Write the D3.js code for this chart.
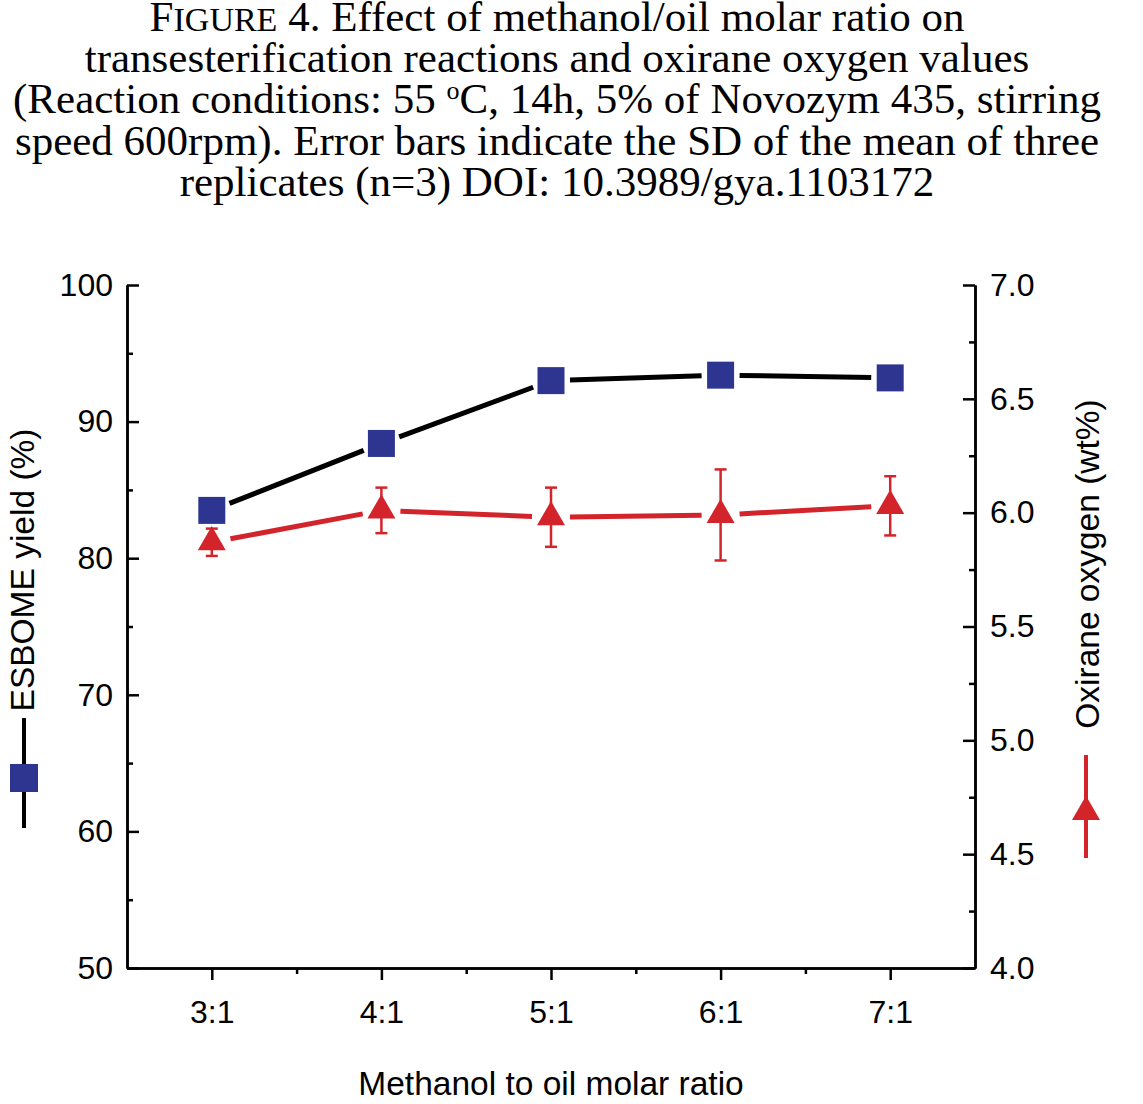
<!DOCTYPE html>
<html lang="en">

<head>
    <meta charset="UTF-8">
    <title>Figure 4 - methanol/oil molar ratio</title>
    <script src="https://cdn.jsdelivr.net/npm/d3@7"></script>
    <style>
        body { margin: 0; background: #fff; }
    </style>
</head>

<body>
    <div id="container"></div>

    <script>
        const width = 1143;
        const height = 1104;
        const margin = { top: 285, left: 127, right: 168, bottom: 136 };

        // data
        const ratios = [3, 4, 5, 6, 7];
        const ratioLabels = ['3:1', '4:1', '5:1', '6:1', '7:1'];
        const yieldValues = [83.5, 88.4, 93.0, 93.4, 93.2];
        const oxiraneValues = [5.87, 6.01, 5.98, 5.99, 6.03];
        const oxiraneSd = [0.06, 0.10, 0.13, 0.20, 0.13];
        const leftTicks = [50, 60, 70, 80, 90, 100];
        const rightTicks = [4.0, 4.5, 5.0, 5.5, 6.0, 6.5, 7.0];

        const blue = '#2e3590';
        const red = '#d3242b';

        const x = d3.scaleLinear().domain([2.5, 7.5]).range([margin.left, width - margin.right]);
        const yLeft = d3.scaleLinear().domain([50, 100]).range([height - margin.bottom, margin.top]);
        const yRight = d3.scaleLinear().domain([4, 7]).range([height - margin.bottom, margin.top]);

        const svg = d3.select('#container').append('svg')
            .attr('width', width)
            .attr('height', height);

        // title
        const title = svg.append('text')
            .attr('font-family', '"Liberation Serif", "Times New Roman", serif')
            .attr('font-size', 43)
            .attr('text-anchor', 'middle')
            .attr('fill', '#000');
        const t1 = title.append('tspan').attr('x', 557).attr('y', 31);
        t1.append('tspan').text('F');
        t1.append('tspan').attr('font-size', 34).text('IGURE');
        t1.append('tspan').text(' 4. Effect of methanol/oil molar ratio on');
        title.append('tspan').attr('x', 557).attr('y', 72)
            .text('transesterification reactions and oxirane oxygen values');
        const t3 = title.append('tspan').attr('x', 557).attr('y', 113);
        t3.append('tspan').text('(Reaction conditions: 55 ');
        t3.append('tspan').attr('font-size', 26).attr('dy', -14).text('o');
        t3.append('tspan').attr('dy', 14).text('C, 14h, 5% of Novozym 435, stirring');
        title.append('tspan').attr('x', 557).attr('y', 155)
            .text('speed 600rpm). Error bars indicate the SD of the mean of three');
        title.append('tspan').attr('x', 557).attr('y', 196)
            .text('replicates (n=3) DOI: 10.3989/gya.1103172');

        // axes
        const axisFont = '"Liberation Sans", Arial, Helvetica, sans-serif';
        const styleAxis = g => {
            g.attr('font-family', axisFont).attr('font-size', 32);
            g.selectAll('path, line').attr('stroke', '#000').attr('stroke-width', 2.5);
            g.selectAll('text').attr('fill', '#000');
        };

        svg.append('g')
            .attr('transform', `translate(${margin.left},0)`)
            .call(d3.axisLeft(yLeft).tickValues(d3.range(55, 100, 10)).tickSize(-6).tickSizeOuter(0).tickFormat(''))
            .call(styleAxis);
        svg.append('g')
            .attr('transform', `translate(${margin.left},0)`)
            .call(d3.axisLeft(yLeft).tickValues(leftTicks).tickSize(-12).tickSizeOuter(0).tickPadding(14).tickFormat(d3.format('d')))
            .call(styleAxis);

        svg.append('g')
            .attr('transform', `translate(${width - margin.right},0)`)
            .call(d3.axisRight(yRight).tickValues(d3.range(4.25, 7, 0.5)).tickSize(-6).tickSizeOuter(0).tickFormat(''))
            .call(styleAxis);
        svg.append('g')
            .attr('transform', `translate(${width - margin.right},0)`)
            .call(d3.axisRight(yRight).tickValues(rightTicks).tickSize(-12).tickSizeOuter(0).tickPadding(15).tickFormat(d3.format('.1f')))
            .call(styleAxis);

        svg.append('g')
            .attr('transform', `translate(0,${height - margin.bottom})`)
            .call(d3.axisBottom(x).tickValues(d3.range(3.5, 7, 1)).tickSize(6).tickSizeOuter(0).tickFormat(''))
            .call(styleAxis);
        svg.append('g')
            .attr('transform', `translate(0,${height - margin.bottom})`)
            .call(d3.axisBottom(x).tickValues(ratios).tickSize(12).tickSizeOuter(0).tickPadding(20)
                .tickFormat((d, i) => ratioLabels[i]))
            .call(styleAxis);

        // axis titles
        svg.append('text')
            .attr('font-family', axisFont)
            .attr('font-size', 33.5)
            .attr('text-anchor', 'middle')
            .attr('x', 551)
            .attr('y', 1095)
            .text('Methanol to oil molar ratio');

        svg.append('text')
            .attr('font-family', axisFont)
            .attr('font-size', 33.5)
            .attr('text-anchor', 'middle')
            .attr('transform', 'translate(34,570) rotate(-90)')
            .text('ESBOME yield (%)');

        svg.append('text')
            .attr('font-family', axisFont)
            .attr('font-size', 33.5)
            .attr('text-anchor', 'middle')
            .attr('transform', 'translate(1099,564) rotate(-90)')
            .text('Oxirane oxygen (wt%)');

        // series legend symbols next to the titles
        svg.append('line')
            .attr('x1', 24).attr('x2', 24).attr('y1', 718).attr('y2', 828)
            .attr('stroke', '#000').attr('stroke-width', 4);
        svg.append('path')
            .attr('transform', 'translate(24,778)')
            .attr('d', d3.symbol(d3.symbolSquare, 28 * 28)())
            .attr('fill', blue);

        svg.append('line')
            .attr('x1', 1086).attr('x2', 1086).attr('y1', 755).attr('y2', 858)
            .attr('stroke', red).attr('stroke-width', 4);
        svg.append('path')
            .attr('transform', 'translate(1086,812)')
            .attr('d', d3.symbol(d3.symbolTriangle, 340)())
            .attr('fill', red);

        // connecting lines, broken at the markers
        const gap = 19;
        const segments = (xs, ys, ys2) => d3.pairs(d3.zip(xs, ys)).map(([a, b]) => {
            const x1 = x(a[0]), y1 = ys2(a[1]), x2 = x(b[0]), y2 = ys2(b[1]);
            const len = Math.hypot(x2 - x1, y2 - y1);
            const ux = (x2 - x1) / len, uy = (y2 - y1) / len;
            return [x1 + ux * gap, y1 + uy * gap, x2 - ux * gap, y2 - uy * gap];
        });

        const plot = svg.append('g');

        plot.selectAll('line.yield')
            .data(segments(ratios, yieldValues, yLeft))
            .join('line')
            .attr('class', 'yield')
            .attr('x1', d => d[0]).attr('y1', d => d[1])
            .attr('x2', d => d[2]).attr('y2', d => d[3])
            .attr('stroke', '#000').attr('stroke-width', 5);

        plot.selectAll('line.oxirane')
            .data(segments(ratios, oxiraneValues, yRight))
            .join('line')
            .attr('class', 'oxirane')
            .attr('x1', d => d[0]).attr('y1', d => d[1])
            .attr('x2', d => d[2]).attr('y2', d => d[3])
            .attr('stroke', red).attr('stroke-width', 5);

        // error bars for oxirane oxygen
        const oxData = ratios.map((r, i) => ({ r, v: oxiraneValues[i], sd: oxiraneSd[i] }));
        const err = plot.selectAll('g.err')
            .data(oxData)
            .join('g')
            .attr('class', 'err')
            .attr('stroke', red)
            .attr('stroke-width', 2.5);
        err.append('line')
            .attr('x1', d => x(d.r)).attr('x2', d => x(d.r))
            .attr('y1', d => yRight(d.v + d.sd)).attr('y2', d => yRight(d.v - d.sd));
        err.append('line')
            .attr('x1', d => x(d.r) - 6).attr('x2', d => x(d.r) + 6)
            .attr('y1', d => yRight(d.v + d.sd)).attr('y2', d => yRight(d.v + d.sd));
        err.append('line')
            .attr('x1', d => x(d.r) - 6).attr('x2', d => x(d.r) + 6)
            .attr('y1', d => yRight(d.v - d.sd)).attr('y2', d => yRight(d.v - d.sd));

        // markers
        plot.selectAll('path.tri')
            .data(oxData)
            .join('path')
            .attr('class', 'tri')
            .attr('transform', d => `translate(${x(d.r)},${yRight(d.v)})`)
            .attr('d', d3.symbol(d3.symbolTriangle, 340)())
            .attr('fill', red);

        plot.selectAll('path.sq')
            .data(ratios.map((r, i) => ({ r, v: yieldValues[i] })))
            .join('path')
            .attr('class', 'sq')
            .attr('transform', d => `translate(${x(d.r)},${yLeft(d.v)})`)
            .attr('d', d3.symbol(d3.symbolSquare, 27 * 27)())
            .attr('fill', blue);
    </script>
</body>

</html>
